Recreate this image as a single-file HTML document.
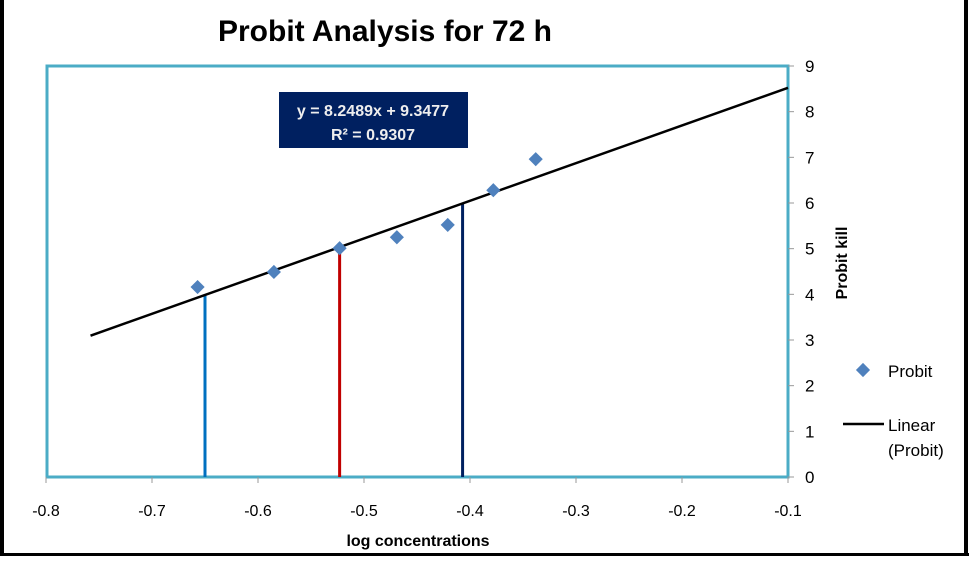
<!DOCTYPE html>
<html><head><meta charset="utf-8"><style>
body{margin:0;width:969px;height:556px;overflow:hidden;background:#fff;font-family:"Liberation Sans",sans-serif}
</style></head><body>
<svg id="chart" width="969" height="556" xmlns="http://www.w3.org/2000/svg">
<rect x="0" y="0" width="4" height="556" fill="#000"/>
<rect x="964" y="0" width="4" height="556" fill="#000"/>
<rect x="0" y="553" width="969" height="3" fill="#000"/>
<text x="385" y="41" text-anchor="middle" font-size="30" font-weight="bold">Probit Analysis for 72 h</text>
<rect x="47" y="66" width="741" height="411" fill="none" stroke="#4bacc6" stroke-width="3"/>
<g id="ticks"></g>
<g id="marks"></g>
<rect x="279" y="92" width="189" height="56" fill="#002060"/>
<text x="373" y="116" text-anchor="middle" font-size="16" font-weight="bold" fill="#eee">y = 8.2489x + 9.3477</text>
<text x="373" y="140" text-anchor="middle" font-size="16" font-weight="bold" fill="#eee">R² = 0.9307</text>
<text x="418" y="546" text-anchor="middle" font-size="16" font-weight="bold">log concentrations</text>
<text transform="translate(847,263) rotate(-90)" text-anchor="middle" font-size="16" font-weight="bold">Probit kill</text>
<g>
<rect x="858" y="365" width="10" height="10" fill="#4f81bd" transform="rotate(45 863 370)"/>
<text x="888" y="377" font-size="17">Probit</text>
<line x1="843" y1="424" x2="884" y2="424" stroke="#000" stroke-width="2.5"/>
<text x="888" y="431" font-size="17">Linear</text>
<text x="888" y="456" font-size="17">(Probit)</text>
</g>
</svg>
<script>
const xTicks=[-0.8,-0.7,-0.6,-0.5,-0.4,-0.3,-0.2,-0.1];
const yTicks=[0,1,2,3,4,5,6,7,8,9];
const logConc=[-0.657,-0.585,-0.523,-0.469,-0.421,-0.378,-0.338];
const probit=[4.16,4.49,5.01,5.25,5.52,6.28,6.96];
const slope=8.2489, intercept=9.3477;
const trendX=[-0.758,-0.1];
const refProbits=[4,5,6];
const refLogConc=[-0.65,-0.523,-0.407];
const refColors=['#0070c0','#c00000','#002060'];
const X=v=>46+(v+0.8)/0.7*742;
const Y=v=>477-v/9*411;
const NS='http://www.w3.org/2000/svg';
const tg=document.getElementById('ticks'), mg=document.getElementById('marks');
function mk(tag,attrs,parent){const e=document.createElementNS(NS,tag);for(const k in attrs)e.setAttribute(k,attrs[k]);parent.appendChild(e);return e;}
xTicks.forEach(t=>{
 const l=mk('line',{x1:X(t),x2:X(t),y1:477,y2:483,stroke:'#999'},tg);
 
 
 const tx=mk('text',{x:X(t),y:516,'text-anchor':'middle','font-size':16},tg);
 tx.textContent=String(t);
 
 
});
yTicks.forEach(t=>{
 const l=mk('line',{x1:788,x2:794,y1:Y(t),y2:Y(t),stroke:'#999'},tg);
 
 
 const tx=mk('text',{x:805,y:Y(t)+6,'font-size':17},tg);
 tx.textContent=String(t);
 
 
});
refProbits.forEach((p,i)=>{
 const x=refLogConc[i];
 const l=mk('line',{x1:X(x),x2:X(x),y1:Y(p),y2:477,stroke:refColors[i],'stroke-width':3},mg);
 
 
});
const tl=mk('line',{x1:X(trendX[0]),y1:Y(slope*trendX[0]+intercept),x2:X(trendX[1]),y2:Y(slope*trendX[1]+intercept),stroke:'#000','stroke-width':2.5},mg);


logConc.forEach((c,i)=>{
 const cx=X(c),cy=Y(probit[i]);
 const r=mk('rect',{x:cx-5,y:cy-5,width:10,height:10,fill:'#4f81bd',transform:`rotate(45 ${cx} ${cy})`},mg);
 
 
});
</script>
</body></html>
